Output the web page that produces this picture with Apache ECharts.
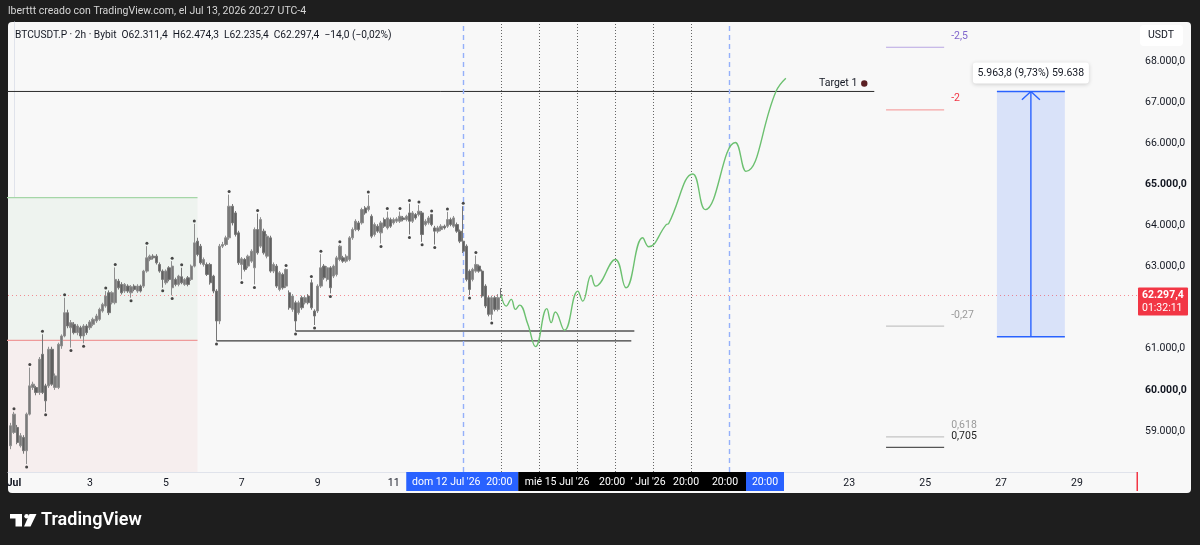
<!DOCTYPE html>
<html><head><meta charset="utf-8">
<script src="https://cdn.jsdelivr.net/npm/echarts@6/dist/echarts.min.js"></script>
<style>html,body{margin:0;padding:0;background:#1e1e1e;}#c{width:1200px;height:545px;}</style>
</head><body><div id="c"></div>
<script>
// ---------- DATA ----------
// x = days since Jul 1 00:00 ; y = price (USDT)
const firstBarDay = -1 / 12;   // Jun 30 22:00
const barStep = 1 / 12;        // 2h bars
const candleOpen = [58643,58967,59088,58643,58846,58522,59412,60059,60059,59937,
60867,60099,60099,60989,60059,60059,61070,61312,61878,61514,
61595,61393,61514,61312,61555,61514,61595,61676,61717,61919,
62040,62363,62121,62121,62646,62566,62404,62525,62363,62525,
62404,62525,62525,62889,63172,63253,63253,63051,62889,62606,
62970,62485,62687,62566,62752,62566,62727,62687,63011,63617,
63496,63051,63051,63051,62768,62404,61676,63496,63536,63698,
64466,64304,63819,63051,63172,63011,63132,62970,63900,63496,
63860,63253,63698,62889,63011,62444,62808,62525,62363,61959,
62121,61878,62242,62121,62283,62606,61919,61919,62525,63011,
62687,62970,62768,62808,63172,63212,63132,63172,63698,63900,
64062,64062,64426,64385,64223,63779,63981,63819,64142,63940,
64142,64062,64102,64102,64183,64142,64304,64102,64264,64264,
64304,64021,64062,64264,63940,63860,63900,63981,63981,64142,
63981,64021,63860,63617,63496,62889,62687,62889,63011,62889,
62525,62242,61838,62242,61959,62311.4];
const candleClose = [59129,59412,58724,58886,58522,59412,60099,60140,59937,60746,
59937,59735,60989,60140,60342,61110,61312,61878,61555,61636,
61393,61555,61312,61555,61393,61652,61717,61798,61959,62080,
62283,61878,62363,62687,62485,62363,62566,62404,62509,62444,
62525,62404,62889,63212,63253,63212,63091,62889,62687,62889,
62687,63011,62566,62768,62606,62687,62566,63011,63576,63293,
63091,63172,62808,62606,62404,61676,63496,63536,63698,64466,
64062,63779,63091,63188,62930,63253,63374,63900,63334,64142,
63334,63738,62889,63051,62525,62849,62485,62930,61999,62283,
61676,62121,61999,62242,62121,61999,61798,62525,62970,62727,
62970,62485,63011,63212,63496,63132,63253,63698,63900,64102,
63900,64385,64304,64466,63738,64021,63860,64062,63981,64183,
63981,64142,64159,64223,64142,64223,64102,64304,64183,64345,
63779,64102,64183,64021,63860,63940,63981,63940,64142,64021,
64183,63860,63617,63374,62687,62444,62930,63051,62889,62283,
62040,61838,62242,61959,62242,62297.4];
const candleLow = [58560,58930,58680,58600,58450,58198,59380,60000,59870,59880,
59900,59468,60050,60100,60000,60020,61000,61280,61500,61029,
61350,61330,61250,61134,61340,61460,61550,61630,61680,61880,
62000,61820,62080,62080,62440,62320,62360,62360,62242,62400,
62360,62370,62480,62850,63130,63170,63050,62850,62485,62560,
62640,62299,62520,62520,62570,62530,62520,62650,62980,63250,
63050,63000,62770,62560,62350,61191,61600,63450,63500,63650,
64000,63730,63040,62687,62880,62960,63090,62566,63290,63450,
63290,63200,62850,62840,62480,62400,62440,62480,61950,61900,
61433,61830,61950,62080,62080,61950,61579,61870,62480,62680,
62640,62347,62720,62760,63130,63090,63090,63130,63650,63860,
63860,64020,64260,64340,63690,63730,63820,63560,63940,63900,
63940,64020,64060,64060,64100,64100,63779,64060,64140,64220,
63601,63980,64020,63980,63536,63810,63860,63900,63940,63980,
63940,63820,63570,63330,62640,62307,62640,62850,62850,62240,
61990,61790,61700,61910,61910,62235.4];
const candleHigh = [59200,59468,59150,58950,58900,59450,60544,60200,60100,60800,
61353,60150,61050,61050,60400,61150,61350,62242,61950,61700,
61650,61600,61560,61600,61600,61700,61760,61850,62000,62120,
62404,62420,62400,62978,62700,62620,62600,62570,62550,62570,
62570,62560,62920,63496,63290,63300,63300,63100,62930,62930,
63010,63132,62730,62800,62970,62720,62770,63050,64037,63700,
63550,63220,63100,63090,62800,62450,63550,63600,63750,64749,
64520,64350,63870,63230,63210,63290,63420,63950,64288,64200,
63920,63790,63750,63100,63060,62890,62850,62954,62420,62330,
62170,62170,62290,62290,62330,62687,61960,62570,63302,63060,
63010,63010,63050,63260,63528,63260,63300,63740,63950,64150,
64110,64430,64470,64741,64270,64070,64030,64110,64190,64337,
64190,64190,64200,64337,64230,64260,64531,64350,64300,64498,
64350,64150,64230,64280,63990,63990,64030,64020,64329,64190,
64230,64070,63900,64466,63540,62930,62970,63269,63050,62930,
62570,62290,62290,62290,62330,62474.3];
const pivotHighIdx = [1,6,10,17,30,33,43,51,54,58,69,78,87,95,98,104,113,119,123,126,129,133,138,143,147];
const pivotLowIdx  = [5,11,19,23,38,48,51,65,73,77,90,96,101,117,126,130,134,145,152];

// projected path (green)
const projDays   = [12.833,12.965,13.097,13.21,13.316,13.535,13.737,14.035,14.15,14.26,14.5,14.85,14.98,15.2,15.32,15.84,16.12,16.56,16.72,17.18,17.245,17.88,18.21,19.0,19.28,20.07,20.33];
const projPrices = [62297,62039,62202,61959,62063,61595,61054,61976,61637,61894,61450,62403,62160,62784,62525,63172,62485,63699,63480,64020,64046,65251,64385,66018,65314,67255,67580];

// zones
const zoneStart = -1, zoneEnd = 4 + 20 / 24;
const zoneTop = 64676, zoneMid = 61207;
// supports (start at a candle low)
const supportIdx = [65, 90];
const supportEndDay = [16.26, 16.34];
// target
const targetPrice = 67257, targetEndDay = 22.66;
// fib levels
const fibNames  = ['-2,5', '-2', '-0,27', '0,618', '0,705'];
const fibPrices = [68332, 66811, 61554, 58861, 58604];
const fibStartDay = 22.97, fibEndDay = 24.5;
// measurement
const measureLow = 61293, measureHigh = 67257;
const measureStartDay = 25.89, measureEndDay = 27.68;
const measureText = '5.963,8 (9,73%) 59.638';
// vertical markers (20:00 each day)
const blueMarkerDays = [11 + 20 / 24, 18 + 20 / 24];
const grayMarkerDays = [12 + 20 / 24, 13 + 20 / 24, 14 + 20 / 24, 15 + 20 / 24, 16 + 20 / 24, 17 + 20 / 24];
// last price
const lastPrice = 62297.4;
const countdown = '01:32:11';
// ticks
const dayTicks = [0, 2, 4, 6, 8, 10, 22, 24, 26, 28];
const priceTicks = [59000, 60000, 61000, 63000, 64000, 65000, 66000, 67000, 68000];
const boldPrices = [60000, 65000];
const headerText = 'lberttt creado con TradingView.com, el Jul 13, 2026 20:27 UTC-4';
const symbolText = 'BTCUSDT.P · 2h · Bybit  O62.311,4  H62.474,3  L62.235,4  C62.297,4  −14,0 (−0,02%)';

// ---------- CHART ----------
const X0 = -0.158, X1 = 29.58, Y0 = 58005, Y1 = 68946;
const FONT = 'Roboto, "Noto Sans", sans-serif';
const FS = 10.5;
function fmtPrice(v) {
  const s = v.toFixed(1).split('.');
  return s[0].replace(/\B(?=(\d{3})+(?!\d))/g, '.') + ',' + s[1];
}
const candles = candleOpen.map((o, i) => [firstBarDay + i * barStep, o, candleClose[i], candleLow[i], candleHigh[i]]);
const seg = (x0, x1, y) => [[x0, y], [x1, y]];

const series = [];
// zones
series.push({
  type: 'line', data: [], silent: true, z: 1,
  markArea: { silent: true, itemStyle: { borderWidth: 0 }, data: [
    [{ coord: [zoneStart, zoneMid], itemStyle: { color: '#eef3ef' } }, { coord: [zoneEnd, zoneTop] }],
    [{ coord: [zoneStart, Y0 - 500], itemStyle: { color: '#f6eeee' } }, { coord: [zoneEnd, zoneMid] }]
  ] }
});
series.push({ type: 'line', data: seg(zoneStart, zoneEnd, zoneTop), symbol: 'none', lineStyle: { color: '#a5d6a7', width: 1.2 }, z: 3, silent: true });
series.push({ type: 'line', data: seg(zoneStart, zoneEnd, zoneMid), symbol: 'none', lineStyle: { color: '#ef9a9a', width: 1.2 }, z: 3, silent: true });
// vertical markers + last price line
series.push({
  type: 'line', data: [], silent: true, z: 2,
  markLine: { silent: true, symbol: 'none', label: { show: false }, data: [
    ...blueMarkerDays.map(d => ({ xAxis: d, lineStyle: { color: '#94b0fa', type: [5, 4], width: 1.4 } })),
    ...grayMarkerDays.map(d => ({ xAxis: d, lineStyle: { color: '#666666', type: [1, 2], width: 1 } })),
    { yAxis: lastPrice, lineStyle: { color: '#f23645', opacity: 0.55, type: [1, 3], width: 1 } }
  ] }
});
// candles
series.push({
  type: 'candlestick', data: candles, encode: { x: 0, y: [1, 2, 3, 4] }, barWidth: 2.8, z: 5,
  itemStyle: { color: '#7a7a7a', color0: '#5f5f5f', borderColor: '#8f8f8f', borderColor0: '#767676', borderWidth: 1 }
});
// pivots
series.push({ type: 'scatter', data: pivotHighIdx.map(i => [firstBarDay + i * barStep, candleHigh[i]]), symbol: 'circle', symbolSize: 3, symbolOffset: [0, -3], itemStyle: { color: '#1a1a1a' }, z: 6 });
series.push({ type: 'scatter', data: pivotLowIdx.map(i => [firstBarDay + i * barStep, candleLow[i]]), symbol: 'circle', symbolSize: 3, symbolOffset: [0, 3], itemStyle: { color: '#1a1a1a' }, z: 6 });
// supports
series.push({ type: 'line', data: seg(firstBarDay + supportIdx[0] * barStep, supportEndDay[0], candleLow[supportIdx[0]]), symbol: 'none', lineStyle: { color: '#3a3a3a', width: 1.2 }, z: 4 });
series.push({ type: 'line', data: seg(firstBarDay + supportIdx[1] * barStep, supportEndDay[1], candleLow[supportIdx[1]]), symbol: 'none', lineStyle: { color: '#7d7d7d', width: 2 }, z: 4 });
// target
series.push({ type: 'line', data: seg(X0 - 1, targetEndDay, targetPrice), symbol: 'none', lineStyle: { color: '#2b2b2b', width: 1 }, z: 4 });
// projection
series.push({ type: 'line', data: projDays.map((d, i) => [d, projPrices[i]]), symbol: 'none', smooth: 0.45, lineStyle: { color: '#6cc070', width: 1.4 }, z: 7 });
// fibs
const fibLine = ['#b9a6e3', '#f6a5a5', '#c4c4c4', '#c4c4c4', '#555555'];
const fibLabel = ['#8066cc', '#f23645', '#9a9a9a', '#9a9a9a', '#222222'];
fibPrices.forEach((p, k) => series.push({
  type: 'line', data: seg(fibStartDay, fibEndDay, p), symbol: 'none', lineStyle: { color: fibLine[k], width: 1.2 }, z: 4,
  endLabel: { show: true, formatter: () => fibNames[k], color: fibLabel[k], fontSize: FS, fontFamily: FONT, distance: 7, offset: [0, -11] }
}));
// measurement
series.push({
  type: 'line', data: [], silent: true, z: 3,
  markArea: { silent: true, data: [[{ coord: [measureStartDay, measureLow], itemStyle: { color: 'rgba(41,98,255,0.15)' } }, { coord: [measureEndDay, measureHigh] }]] }
});
series.push({ type: 'line', data: seg(measureStartDay, measureEndDay, measureHigh), symbol: 'none', lineStyle: { color: '#2962ff', width: 1.6 }, z: 5 });
series.push({ type: 'line', data: seg(measureStartDay, measureEndDay, measureLow), symbol: 'none', lineStyle: { color: '#2962ff', width: 1.6 }, z: 5 });
const mc = (measureStartDay + measureEndDay) / 2;
series.push({ type: 'line', data: [[mc, measureLow], [mc, measureHigh]], symbol: 'none', lineStyle: { color: '#2962ff', width: 1.4 }, z: 5 });
series.push({ type: 'line', data: [[mc - 0.237, measureHigh - 200], [mc, measureHigh], [mc + 0.237, measureHigh - 200]], symbol: 'none', lineStyle: { color: '#2962ff', width: 1.4 }, z: 5 });

const chart = echarts.init(document.getElementById('c'));
chart.setOption({
  animation: false,
  backgroundColor: '#1e1e1e',
  textStyle: { fontFamily: FONT },
  grid: { left: 8, right: 63, top: 22, bottom: 73 },
  xAxis: {
    type: 'value', min: X0, max: X1,
    axisLine: { show: true, lineStyle: { color: '#e0e3eb' } }, axisTick: { show: false }, splitLine: { show: false },
    axisLabel: {
      customValues: dayTicks, margin: 6, fontSize: FS, color: '#131722', fontFamily: FONT,
      formatter: v => v === 0 ? '{b|Jul}' : String(v + 1),
      rich: { b: { fontWeight: 'bold', fontSize: FS, color: '#131722', fontFamily: FONT } }
    }
  },
  yAxis: {
    type: 'value', position: 'right', min: Y0, max: Y1, scale: true,
    axisLine: { show: true, lineStyle: { color: '#e0e3eb' } }, axisTick: { show: false }, splitLine: { show: false },
    axisLabel: {
      customValues: priceTicks, margin: 8, fontSize: FS, color: '#131722', fontFamily: FONT,
      formatter: v => boldPrices.includes(v) ? '{b|' + fmtPrice(v) + '}' : fmtPrice(v),
      rich: { b: { fontWeight: 'bold', fontSize: FS, color: '#131722', fontFamily: FONT } }
    }
  },
  series
});

const P = (x, y) => chart.convertToPixel({ gridIndex: 0 }, [x, y]);
const gx = d => P(d, Y0)[0];
const gy = p => P(X0, p)[1];
const axisY = gy(Y0);
const els = [];
els.push({ type: 'rect', z: -10, shape: { x: 8, y: 22, width: 1183, height: 471, r: 4 }, style: { fill: '#f8f8f8' } });
els.push({ type: 'text', z: 10, x: 8, y: 11, style: { text: headerText, fill: '#d6d6d6', font: '10.5px ' + FONT, verticalAlign: 'middle' } });
els.push({ type: 'text', z: 10, x: 15, y: 35, style: { text: symbolText, fill: '#131722', font: '10.2px ' + FONT, verticalAlign: 'middle' } });
// USDT box
els.push({ type: 'rect', z: 10, shape: { x: 1140, y: 25, width: 43, height: 21, r: 4 }, style: { fill: '#ffffff' } });
els.push({ type: 'text', z: 11, x: 1148, y: 35.5, style: { text: 'USDT', fill: '#131722', font: FS + 'px ' + FONT, verticalAlign: 'middle' } });
// last price label
const ly = gy(lastPrice);
els.push({ type: 'rect', z: 10, shape: { x: 1138, y: ly - 8, width: 50, height: 28, r: 1 }, style: { fill: '#f23645' } });
els.push({ type: 'text', z: 11, x: 1142, y: ly, style: { text: fmtPrice(lastPrice), fill: '#fff', font: 'bold ' + FS + 'px ' + FONT, verticalAlign: 'middle' } });
els.push({ type: 'text', z: 11, x: 1142, y: ly + 13, style: { text: countdown, fill: '#fff', font: FS + 'px ' + FONT, verticalAlign: 'middle' } });
// red time tick
els.push({ type: 'rect', z: 10, shape: { x: 1136.5, y: axisY, width: 1.5, height: 19 }, style: { fill: '#f23645' } });
// time axis highlight boxes
const b1 = gx(blueMarkerDays[0]), b2 = gx(blueMarkerDays[1]);
const ty = axisY + 10.5;
els.push({ type: 'rect', z: 10, shape: { x: b1 - 57, y: axisY, width: 112, height: 19 }, style: { fill: '#2962ff' } });
els.push({ type: 'rect', z: 10, shape: { x: b1 + 55, y: axisY, width: b2 + 17 - (b1 + 55), height: 19 }, style: { fill: '#000' } });
els.push({ type: 'rect', z: 10, shape: { x: b2 + 17, y: axisY, width: 38, height: 19 }, style: { fill: '#2962ff' } });
const tl = (txt, x) => els.push({ type: 'text', z: 11, x: x, y: ty, style: { text: txt, fill: '#fff', font: FS + 'px ' + FONT, align: 'center', verticalAlign: 'middle' } });
tl("dom 12 Jul '26", b1 - 17); tl('20:00', b1 + 36);
tl("mié 15 Jul '26", gx(grayMarkerDays[2]) - 20); tl('20:00', gx(grayMarkerDays[2]) + 35);
tl("ʼ Jul '26", gx(grayMarkerDays[4]) - 5); tl('20:00', gx(grayMarkerDays[4]) + 33);
tl('20:00', gx(grayMarkerDays[5]) + 34);
tl('20:00', b2 + 36);
// target label
const tx = gx(targetEndDay), tyy = gy(targetPrice);
els.push({ type: 'text', z: 11, x: tx - 17, y: tyy - 8, style: { text: 'Target 1', fill: '#131722', font: FS + 'px ' + FONT, align: 'right', verticalAlign: 'middle' } });
els.push({ type: 'circle', z: 11, shape: { cx: tx - 10, cy: tyy - 8, r: 3.2 }, style: { fill: '#5a1e22' } });
// measurement label
const mx = gx(mc), my = gy(measureHigh);
els.push({ type: 'rect', z: 11, shape: { x: mx - 58, y: my - 29, width: 116, height: 21, r: 3 }, style: { fill: '#fff', shadowBlur: 4, shadowColor: 'rgba(0,0,0,0.18)', shadowOffsetY: 1 } });
els.push({ type: 'text', z: 12, x: mx, y: my - 18.5, style: { text: measureText, fill: '#131722', font: FS + 'px ' + FONT, align: 'center', verticalAlign: 'middle' } });
// TradingView logo
els.push({ type: 'rect', z: 10, shape: { x: 10, y: 514, width: 12, height: 4.5 }, style: { fill: '#fff' } });
els.push({ type: 'rect', z: 10, shape: { x: 15.5, y: 514, width: 6.5, height: 12.5 }, style: { fill: '#fff' } });
els.push({ type: 'circle', z: 10, shape: { cx: 26.6, cy: 516.3, r: 2.3 }, style: { fill: '#fff' } });
els.push({ type: 'polygon', z: 10, shape: { points: [[29.5, 514], [36.5, 514], [30.5, 526.5], [24, 526.5]] }, style: { fill: '#fff' } });
els.push({ type: 'text', z: 10, x: 41, y: 520.5, style: { text: 'TradingView', fill: '#fff', font: '600 18px ' + FONT, verticalAlign: 'middle' } });
chart.setOption({ graphic: { elements: els } });
</script></body></html>
